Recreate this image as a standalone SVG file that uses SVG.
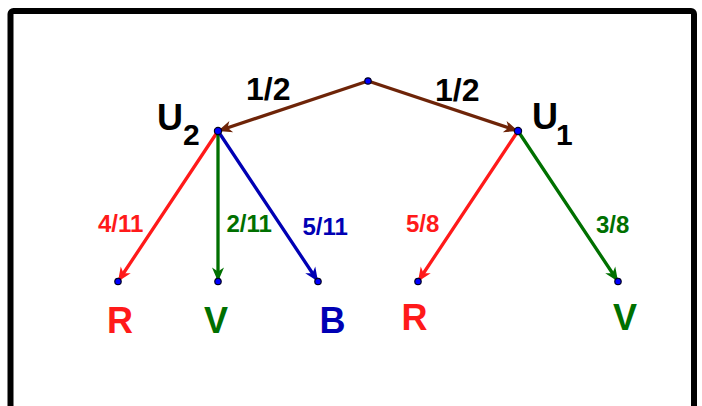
<svg xmlns="http://www.w3.org/2000/svg" width="702" height="406" viewBox="0 0 702 406">
<style>
text{font-family:"Liberation Sans",Arial,sans-serif;font-weight:bold}
.big{font-size:32px}
.lab{font-size:36px}
.sub{font-size:30px}
.p{font-size:24px}
.e{fill:none;stroke-width:3.3;stroke-linecap:round}
.dot{fill:#0000ff;stroke:#000022;stroke-width:1.2}
</style>
<defs>
<marker id="ab" viewBox="-15 -8 17 16" markerWidth="17" markerHeight="16" refX="0" refY="0" orient="auto" markerUnits="userSpaceOnUse"><path d="M0,0 L-14,-6 L-10,0 L-14,6 Z" fill="#6e2408"/></marker>
<marker id="ar" viewBox="-15 -8 17 16" markerWidth="17" markerHeight="16" refX="0" refY="0" orient="auto" markerUnits="userSpaceOnUse"><path d="M0,0 L-14,-6 L-10,0 L-14,6 Z" fill="#ff1a1a"/></marker>
<marker id="ag" viewBox="-15 -8 17 16" markerWidth="17" markerHeight="16" refX="0" refY="0" orient="auto" markerUnits="userSpaceOnUse"><path d="M0,0 L-14,-6 L-10,0 L-14,6 Z" fill="#007000"/></marker>
<marker id="abl" viewBox="-15 -8 17 16" markerWidth="17" markerHeight="16" refX="0" refY="0" orient="auto" markerUnits="userSpaceOnUse"><path d="M0,0 L-14,-6 L-10,0 L-14,6 Z" fill="#0000b4"/></marker>
</defs>
<rect x="10.5" y="11" width="683.5" height="420" rx="3" fill="#fff" stroke="#000" stroke-width="6"/>
<g id="connectors">
<line class="e" x1="368" y1="81" x2="218" y2="131" stroke="#6e2408" marker-end="url(#ab)"/>
<line class="e" x1="368" y1="81" x2="518" y2="131" stroke="#6e2408" marker-end="url(#ab)"/>
<line class="e" x1="218" y1="131" x2="118" y2="281.5" stroke="#ff1a1a" marker-end="url(#ar)"/>
<line class="e" x1="218" y1="131" x2="218" y2="281.5" stroke="#007000" marker-end="url(#ag)"/>
<line class="e" x1="218" y1="131" x2="318" y2="281.5" stroke="#0000b4" marker-end="url(#abl)"/>
<line class="e" x1="518" y1="131" x2="418" y2="281.5" stroke="#ff1a1a" marker-end="url(#ar)"/>
<line class="e" x1="518" y1="131" x2="618" y2="281.5" stroke="#007000" marker-end="url(#ag)"/>
<text class="big" x="246" y="100" fill="#000">1/2</text>
<text class="big" x="435" y="100.5" fill="#000">1/2</text>
<text class="p" x="98" y="231.5" fill="#ff1a1a">4/11</text>
<text class="p" x="226.5" y="231.5" fill="#007000">2/11</text>
<text class="p" x="302.5" y="235" fill="#0000b4">5/11</text>
<text class="p" x="406" y="231.5" fill="#ff1a1a">5/8</text>
<text class="p" x="596" y="233" fill="#007000">3/8</text>
</g>
<g id="root"><circle class="dot" cx="368" cy="81" r="3.2"/></g>
<g id="U2"><circle class="dot" cx="218" cy="131" r="3.6"/><text class="lab" x="157" y="130" fill="#000">U</text><text class="sub" x="183" y="145" fill="#000">2</text></g>
<g id="U1"><circle class="dot" cx="518" cy="131" r="3.6"/><text class="lab" x="532" y="128.5" fill="#000">U</text><text class="sub" x="556" y="145" fill="#000">1</text></g>
<g id="R1"><circle class="dot" cx="118" cy="281.5" r="3.2"/><text class="lab" x="107" y="332.5" fill="#ff1a1a">R</text></g>
<g id="V1"><circle class="dot" cx="218" cy="281.5" r="3.2"/><text class="lab" x="204" y="332.5" fill="#007000">V</text></g>
<g id="B1"><circle class="dot" cx="318" cy="281.5" r="3.2"/><text class="lab" x="319.5" y="332.5" fill="#0000b4">B</text></g>
<g id="R2"><circle class="dot" cx="418" cy="281.5" r="3.2"/><text class="lab" x="401.5" y="329.5" fill="#ff1a1a">R</text></g>
<g id="V2"><circle class="dot" cx="618" cy="281.5" r="3.2"/><text class="lab" x="613" y="330" fill="#007000">V</text></g>
</svg>
